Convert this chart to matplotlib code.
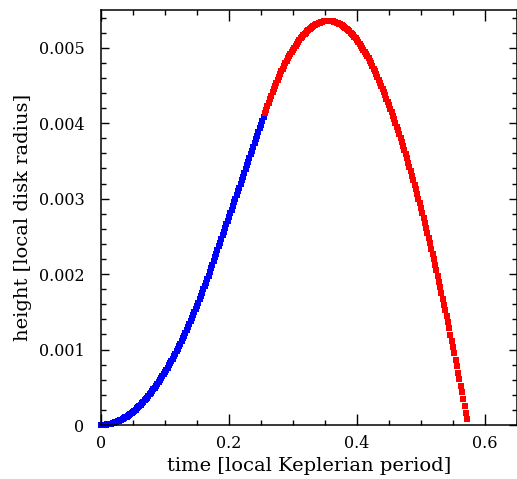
import matplotlib
matplotlib.use("Agg")
import matplotlib.pyplot as plt
from matplotlib.ticker import MultipleLocator, FuncFormatter

plt.rcParams['font.family'] = ['DejaVu Serif']
plt.rcParams['font.size'] = 11.5

# time [local Keplerian period] of each output step, blue phase
blue_t = [
    0.000, 0.002, 0.004, 0.006, 0.008, 0.010, 0.012, 0.014, 0.016, 0.018,
    0.020, 0.022, 0.024, 0.026, 0.028, 0.030, 0.032, 0.034, 0.036, 0.038,
    0.040, 0.042, 0.044, 0.046, 0.048, 0.050, 0.052, 0.054, 0.056, 0.058,
    0.060, 0.062, 0.064, 0.066, 0.068, 0.070, 0.072, 0.074, 0.076, 0.078,
    0.080, 0.082, 0.084, 0.086, 0.088, 0.090, 0.092, 0.094, 0.096, 0.098,
    0.100, 0.102, 0.104, 0.106, 0.108, 0.110, 0.112, 0.114, 0.116, 0.118,
    0.120, 0.122, 0.124, 0.126, 0.128, 0.130, 0.132, 0.134, 0.136, 0.138,
    0.140, 0.142, 0.144, 0.146, 0.148, 0.150, 0.152, 0.154, 0.156, 0.158,
    0.160, 0.162, 0.164, 0.166, 0.168, 0.170, 0.172, 0.174, 0.176, 0.178,
    0.180, 0.182, 0.184, 0.186, 0.188, 0.190, 0.192, 0.194, 0.196, 0.198,
    0.200, 0.202, 0.204, 0.206, 0.208, 0.210, 0.212, 0.214, 0.216, 0.218,
    0.220, 0.222, 0.224, 0.226, 0.228, 0.230, 0.232, 0.234, 0.236, 0.238,
    0.240, 0.242, 0.244, 0.246, 0.248, 0.250, 0.252, 0.254,
]
# height in units of 0.001 local disk radius
blue_h = [
    0.000, 0.000, 0.001, 0.003, 0.004, 0.007, 0.010, 0.014, 0.018, 0.023,
    0.028, 0.034, 0.040, 0.047, 0.055, 0.063, 0.072, 0.081, 0.091, 0.101,
    0.112, 0.124, 0.136, 0.149, 0.162, 0.176, 0.190, 0.205, 0.220, 0.236,
    0.253, 0.270, 0.288, 0.306, 0.325, 0.344, 0.364, 0.384, 0.405, 0.427,
    0.449, 0.472, 0.495, 0.519, 0.544, 0.569, 0.594, 0.620, 0.647, 0.674,
    0.702, 0.730, 0.759, 0.789, 0.819, 0.849, 0.881, 0.912, 0.945, 0.977,
    1.011, 1.045, 1.079, 1.115, 1.150, 1.186, 1.223, 1.261, 1.298, 1.337,
    1.376, 1.416, 1.456, 1.496, 1.538, 1.580, 1.622, 1.665, 1.708, 1.752,
    1.797, 1.842, 1.888, 1.934, 1.981, 2.029, 2.077, 2.125, 2.174, 2.222,
    2.270, 2.319, 2.367, 2.416, 2.464, 2.513, 2.561, 2.610, 2.659, 2.707,
    2.756, 2.805, 2.853, 2.902, 2.951, 3.000, 3.049, 3.097, 3.146, 3.195,
    3.244, 3.293, 3.342, 3.391, 3.440, 3.489, 3.539, 3.588, 3.637, 3.686,
    3.735, 3.785, 3.834, 3.883, 3.933, 3.982, 4.031, 4.081,
]

# red phase
red_t = [
    0.256, 0.258, 0.260, 0.262, 0.264, 0.266, 0.268, 0.270, 0.272, 0.274,
    0.276, 0.278, 0.280, 0.282, 0.284, 0.286, 0.288, 0.290, 0.292, 0.294,
    0.296, 0.298, 0.300, 0.302, 0.304, 0.306, 0.308, 0.310, 0.312, 0.314,
    0.316, 0.318, 0.320, 0.322, 0.324, 0.326, 0.328, 0.330, 0.332, 0.334,
    0.336, 0.338, 0.340, 0.342, 0.344, 0.346, 0.348, 0.350, 0.352, 0.354,
    0.356, 0.358, 0.360, 0.362, 0.364, 0.366, 0.368, 0.370, 0.372, 0.374,
    0.376, 0.378, 0.380, 0.382, 0.384, 0.386, 0.388, 0.390, 0.392, 0.394,
    0.396, 0.398, 0.400, 0.402, 0.404, 0.406, 0.408, 0.410, 0.412, 0.414,
    0.416, 0.418, 0.420, 0.422, 0.424, 0.426, 0.428, 0.430, 0.432, 0.434,
    0.436, 0.438, 0.440, 0.442, 0.444, 0.446, 0.448, 0.450, 0.452, 0.454,
    0.456, 0.458, 0.460, 0.462, 0.464, 0.466, 0.468, 0.470, 0.472, 0.474,
    0.476, 0.478, 0.480, 0.482, 0.484, 0.486, 0.488, 0.490, 0.492, 0.494,
    0.496, 0.498, 0.500, 0.502, 0.504, 0.506, 0.508, 0.510, 0.512, 0.514,
    0.516, 0.518, 0.520, 0.522, 0.524, 0.526, 0.528, 0.530, 0.532, 0.534,
    0.536, 0.538, 0.540, 0.542, 0.544, 0.546, 0.548, 0.550, 0.552, 0.554,
    0.556, 0.558, 0.560, 0.562, 0.564, 0.566, 0.568, 0.570, 0.572,
]
red_h = [
    4.129, 4.178, 4.226, 4.273, 4.319, 4.364, 4.408, 4.451, 4.493, 4.534,
    4.574, 4.613, 4.651, 4.688, 4.724, 4.759, 4.793, 4.826, 4.858, 4.889,
    4.919, 4.948, 4.976, 5.003, 5.029, 5.054, 5.078, 5.101, 5.123, 5.144,
    5.164, 5.183, 5.201, 5.218, 5.234, 5.249, 5.263, 5.276, 5.288, 5.299,
    5.309, 5.318, 5.326, 5.333, 5.339, 5.344, 5.348, 5.351, 5.353, 5.354,
    5.354, 5.353, 5.351, 5.348, 5.344, 5.339, 5.333, 5.326, 5.318, 5.309,
    5.299, 5.288, 5.276, 5.263, 5.249, 5.234, 5.218, 5.201, 5.183, 5.164,
    5.144, 5.123, 5.101, 5.078, 5.054, 5.029, 5.003, 4.976, 4.948, 4.919,
    4.889, 4.858, 4.826, 4.793, 4.759, 4.724, 4.688, 4.651, 4.613, 4.574,
    4.535, 4.495, 4.454, 4.412, 4.370, 4.327, 4.283, 4.238, 4.193, 4.146,
    4.099, 4.052, 4.003, 3.954, 3.904, 3.853, 3.801, 3.749, 3.696, 3.642,
    3.587, 3.532, 3.476, 3.419, 3.361, 3.303, 3.244, 3.184, 3.123, 3.062,
    3.000, 2.937, 2.873, 2.809, 2.743, 2.677, 2.611, 2.543, 2.475, 2.406,
    2.336, 2.265, 2.194, 2.122, 2.049, 1.975, 1.901, 1.826, 1.750, 1.673,
    1.596, 1.518, 1.439, 1.359, 1.279, 1.198, 1.116, 1.033, 0.950, 0.865,
    0.780, 0.695, 0.608, 0.521, 0.433, 0.344, 0.254, 0.164, 0.073,
]

assert len(blue_t) == len(blue_h) and len(red_t) == len(red_h)

fig = plt.figure(figsize=(5.17, 4.79), dpi=100)
ax = fig.add_axes([101/517, 54/479, 416/517, 415/479])

# heights were read in units of 1e-3
ax.plot(blue_t, [v * 1e-3 for v in blue_h], 's', color='#0000ff',
        ms=4.3, mew=0, clip_on=False)
ax.plot(red_t, [v * 1e-3 for v in red_h], 's', color='#ff0000',
        ms=4.3, mew=0, clip_on=False)

ax.set_xlim(0, 0.65)
ax.set_ylim(0, 0.0055)

fmt = FuncFormatter(lambda v, p: '0' if abs(v) < 1e-12 else f'{v:g}')
ax.xaxis.set_major_locator(MultipleLocator(0.2))
ax.xaxis.set_minor_locator(MultipleLocator(0.05))
ax.yaxis.set_major_locator(MultipleLocator(0.001))
ax.yaxis.set_minor_locator(MultipleLocator(0.0002))
ax.xaxis.set_major_formatter(fmt)
ax.yaxis.set_major_formatter(fmt)

ax.tick_params(which='both', direction='in', top=True, right=True, width=1)
ax.tick_params(axis='x', which='major', length=8, pad=7)
ax.tick_params(axis='y', which='major', length=6, pad=12)
ax.tick_params(which='minor', length=3.5)
for s in ax.spines.values():
    s.set_linewidth(1.1)

ax.set_xlabel('time [local Keplerian period]', fontsize=14, labelpad=4)
ax.set_ylabel('height [local disk radius]', fontsize=14, labelpad=5)

fig.savefig('out.png', dpi=100)
